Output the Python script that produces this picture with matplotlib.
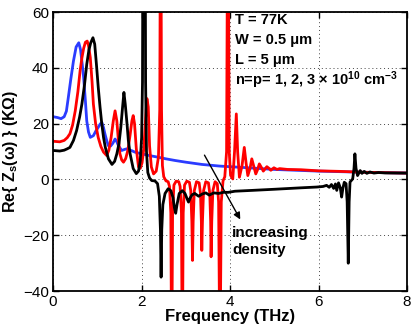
import matplotlib
matplotlib.use("Agg")
import matplotlib.pyplot as plt

plt.rcParams['font.family'] = ['Liberation Sans', 'DejaVu Sans']
plt.rcParams['mathtext.fontset'] = 'custom'
plt.rcParams['mathtext.rm'] = 'Liberation Sans:bold'
plt.rcParams['mathtext.bf'] = 'Liberation Sans:bold'
plt.rcParams['mathtext.it'] = 'Liberation Sans:bold:italic'

# ---- data (Frequency in THz, Re{Zs} in kOhm) ----
blue_x = [0, 0.1, 0.18, 0.25, 0.3, 0.34, 0.4, 0.46, 0.52, 0.58, 0.62, 0.66, 0.69, 0.73, 0.76,
          0.8, 0.84, 0.91, 0.97, 1.02, 1.06, 1.1, 1.14, 1.17, 1.21, 1.25, 1.3, 1.35, 1.4, 1.44,
          1.48, 1.55, 1.62, 1.67, 1.72, 1.78, 1.85, 2.0, 2.2, 2.37, 2.55, 2.76, 3.0, 3.36, 3.77,
          4.2, 4.6, 5.0, 5.5, 6.0, 6.5, 7.0, 7.5, 8.0]
blue_y = [22.5, 22.2, 21.8, 22.5, 24.5, 29, 36, 42.5, 47.5, 49, 46.5, 41, 36.5, 28, 21,
          17, 15.1, 15.7, 17.5, 18.7, 19.8, 20.5, 18.5, 16.4, 14, 12.1, 12, 13, 14.5, 13.5,
          12, 10.4, 10.8, 11, 10.6, 10.3, 9.8, 9.2, 8.5, 8, 7.4, 6.8, 6.2, 5.4, 4.8,
          4.4, 4.0, 3.6, 3.3, 3.0, 2.8, 2.6, 2.45, 2.3]

red_x = [0, 0.15, 0.25, 0.32, 0.38, 0.44, 0.5, 0.56, 0.61, 0.65, 0.69, 0.73, 0.77, 0.8, 0.84,
         0.88, 0.91, 0.96, 1.02, 1.08, 1.14, 1.21, 1.26, 1.31, 1.36, 1.40, 1.44, 1.47, 1.51,
         1.55, 1.59, 1.64, 1.69, 1.74, 1.78, 1.81, 1.84, 1.88, 1.93, 1.97, 2.01, 2.05, 2.09,
         2.12, 2.15, 2.18, 2.22, 2.27, 2.33, 2.38, 2.41, 2.43, 2.45, 2.47, 2.50, 2.55, 2.6,
         2.63, 2.66, 2.68, 2.70, 2.73, 2.78, 2.84, 2.87, 2.90, 2.92, 2.94, 2.97, 3.02, 3.08,
         3.11, 3.135, 3.15, 3.165, 3.19, 3.24, 3.3, 3.33, 3.35, 3.36, 3.375, 3.40, 3.45, 3.51,
         3.54, 3.56, 3.57, 3.585, 3.61, 3.66, 3.71, 3.74, 3.77, 3.80, 3.84, 3.88, 3.92, 3.95,
         3.98, 4.01, 4.06, 4.10, 4.14, 4.17, 4.21, 4.27, 4.32, 4.36, 4.40, 4.45, 4.49, 4.53,
         4.58, 4.62, 4.66, 4.70, 4.75, 4.79, 4.83, 4.87, 4.92, 4.99, 5.06, 5.12, 5.3, 5.6,
         6.0, 6.5, 7.0, 7.5, 8.0]
red_y = [13.7, 13.5, 14, 15, 16.4, 19.5, 24.6, 31.5, 39, 43.5, 47, 49.2, 49.6, 48, 43.7,
         35, 27, 20, 15, 11.8, 9.8, 8.6, 10.5, 15, 21, 24.6, 21, 15, 9.2,
         7, 6.2, 7.5, 10.5, 16, 21, 22.9, 20, 11, 4.5, 4, 6, 11, 22,
         29, 26, 12, 4.5, 2, 3, 8, 25, 120, 25, 5, 1, -0.5, -0.8,
         -2.5, -12, -70, -12, -2, -0.6, -0.8, -2.5, -12, -70, -12, -2, -0.6, -1,
         -4, -15, -29, -15, -4, -0.8, -1.2, -5, -15, -25.4, -15, -4, -0.8, -1.2,
         -5, -15, -27.7, -15, -4, -0.8, -1.5, -8, -70, -8, -0.5, 1, 10, 120,
         10, 1.5, 0.2, 10, 23.5, 10, 0.8, 5, 11.5, 6, 1.4, 4, 7.4, 5,
         2, 3.5, 5.6, 4.5, 3.0, 3.8, 4.6, 4.1, 3.3, 4.2, 3.6, 3.9, 3.6, 3.5,
         3.1, 2.9, 2.6, 2.45, 2.3]

black_x = [0, 0.15, 0.25, 0.32, 0.38, 0.46, 0.53, 0.6, 0.65, 0.71, 0.76, 0.81, 0.85, 0.9, 0.94,
           0.98, 1.02, 1.06, 1.1, 1.14, 1.18, 1.25, 1.33, 1.39, 1.44, 1.49, 1.53, 1.57, 1.6,
           1.63, 1.67, 1.7, 1.74, 1.81, 1.88, 1.93, 1.97, 2.0, 2.02, 2.04, 2.07, 2.09, 2.11,
           2.14, 2.18, 2.23, 2.3, 2.36, 2.40, 2.425, 2.44, 2.455, 2.48, 2.53, 2.6, 2.66, 2.71,
           2.74, 2.77, 2.8, 2.85, 2.92, 2.98, 3.03, 3.06, 3.1, 3.14, 3.2, 3.29, 3.37, 3.45,
           3.53, 3.63, 3.74, 3.85, 3.96, 4.11, 4.5, 5.0, 5.58, 5.96, 6.1, 6.18, 6.24, 6.29,
           6.34, 6.38, 6.41, 6.45, 6.49, 6.52, 6.55, 6.58, 6.62, 6.645, 6.67, 6.69, 6.71, 6.77,
           6.8, 6.82, 6.845, 6.88, 6.94, 6.98, 7.03, 7.09, 7.16, 7.25, 7.35, 7.5, 8.0]
black_y = [10.4, 10.2, 10.5, 11, 11.5, 14, 17.5, 22.5, 27, 34, 41.3, 46.5, 49, 50.8, 48.5,
           41, 33, 26, 19.9, 15, 11.5, 7.4, 5.4, 6.5, 9.2, 13, 18.7, 26, 31.2,
           27, 20, 14, 9.2, 3.9, 2.1, 3, 6.8, 15, 35, 150, 150, 35, 10,
           2.5, 0.5, -0.4, -0.5, -1.5, -6, -18, -35, -18, -9, -5, -3.3, -4, -6.5,
           -10, -12.1, -9, -5, -4, -5, -7, -8.1, -6.5, -5.5, -5, -6, -5.2, -4.8,
           -5.6, -4.8, -5, -4.6, -4.6, -4.2, -3.9, -3.5, -3, -2.7, -2.5, -2.1, -2.8, -1.8,
           -3.2, -1.6, -3.9, -1.2, -3, -6.3, -3, -1, -1.5, -8, -30, -8, -0.9, 0.2,
           4, 9.2, 4, 1.4, 3.2, 2.2, 2.9, 2.2, 2.7, 2.3, 2.5, 2.35, 2.3]

x_ticks = [0, 2, 4, 6, 8]
y_ticks = [-40, -20, 0, 20, 40, 60]
param_lines = ["T = 77K", "W = 0.5 μm", "L = 5 μm",
               "n=p= 1, 2, 3 × 10$^{10}$ cm$^{-3}$"]

fig = plt.figure(figsize=(4.15, 3.26), dpi=100)
ax = fig.add_axes([0.128, 0.107, 0.853, 0.856])

ax.plot(blue_x, blue_y, color='#2b3cff', lw=2)
ax.plot(red_x, red_y, color='#ff0000', lw=2)
ax.plot(black_x, black_y, color='black', lw=2)

ax.set_xlim(0, 8)
ax.set_ylim(-40, 60)
ax.set_xticks(x_ticks)
ax.set_yticks(y_ticks)
ax.grid(True, linestyle=(0, (1, 3)), color='#444444', lw=0.7)
ax.tick_params(direction='in', top=True, right=True, length=4, width=1,
               labelsize=11, pad=3)
for s in ax.spines.values():
    s.set_linewidth(1.3)

ax.set_xlabel("Frequency (THz)", fontsize=12, fontweight='bold', labelpad=0)
ax.set_ylabel("Re{ Z$_\\mathregular{s}$(ω) } (KΩ)", fontsize=11.5, fontweight='bold', labelpad=2)

ys = [55.7, 48.6, 41.4, 33.9]
for t, yv in zip(param_lines, ys):
    ax.text(4.11, yv, t, fontsize=10.5, fontweight='bold', va='baseline', ha='left',
            clip_on=False)

ax.annotate("", xy=(4.26, -15.2), xytext=(3.39, 9.6),
            arrowprops=dict(arrowstyle='-|>', color='black', lw=1, mutation_scale=10))
ax.text(4.04, -20.6, "increasing", fontsize=11, fontweight='bold', va='baseline')
ax.text(4.04, -26.8, "density", fontsize=11, fontweight='bold', va='baseline')

fig.savefig("out.png", dpi=100)
